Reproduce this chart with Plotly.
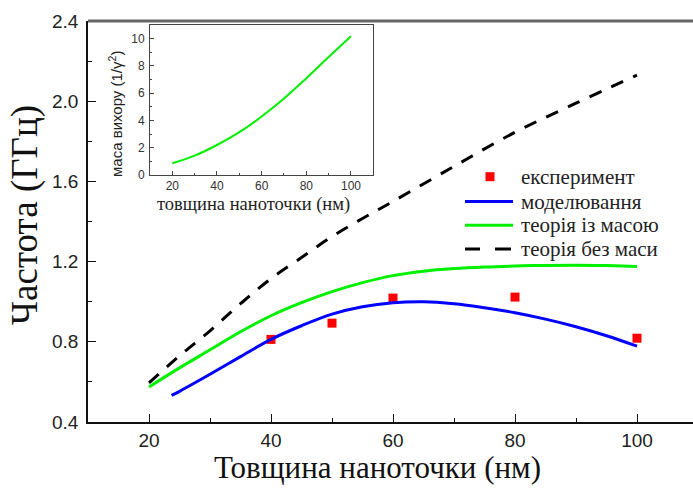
import plotly.graph_objects as go

# Experimental points
exp_x = [40, 50, 60, 80, 100]
exp_y = [0.812, 0.893, 1.018, 1.023, 0.818]

# Micromagnetic simulation
sim_x = [23.7, 25, 30, 35, 40, 45, 50, 55, 60, 65, 70, 75, 80, 85, 90, 95, 100]
sim_y = [0.533, 0.553, 0.638, 0.726, 0.812, 0.880, 0.938, 0.975, 0.995, 1.0,
         0.990, 0.970, 0.945, 0.913, 0.875, 0.830, 0.778]

# Theory including vortex mass
mass_x = [20, 25, 30, 35, 40, 45, 50, 55, 60, 65, 70, 75, 80, 85, 90, 95, 100]
mass_y = [0.575, 0.670, 0.760, 0.850, 0.930, 0.995, 1.050, 1.095, 1.130, 1.152,
          1.165, 1.173, 1.178, 1.181, 1.182, 1.180, 1.176]

# Theory without mass
nomass_x = [20, 25, 30, 35, 40, 45, 50, 55, 60, 70, 80, 90, 100]
nomass_y = [0.595, 0.730, 0.855, 0.990, 1.115, 1.220, 1.325, 1.415, 1.500,
            1.675, 1.845, 1.990, 2.130]

# Inset: vortex mass vs thickness
inset_x = [20, 30, 40, 50, 60, 70, 80, 90, 100]
inset_y = [0.86, 1.42, 2.20, 3.14, 4.29, 5.61, 7.10, 8.65, 10.17]

# Legend entries
legend_labels = ["експеримент", "моделювання", "теорія із масою", "теорія без маси"]

serif = "Liberation Serif, Times New Roman, serif"
sans = "Liberation Sans, Arial, sans-serif"
GREEN = "#00f000"

# main panel geometry in pixels (used to place the hand-drawn legend)
W, H = 693, 489
ML, MT, MB = 88, 21, 67
PW, PH = W - ML, H - MT - MB


def px_x(px):
    return (px - ML) / PW


def px_y(py):
    return (H - MB - py) / PH


fig = go.Figure()

fig.add_trace(go.Scatter(
    x=exp_x, y=exp_y, mode="markers", name=legend_labels[0],
    marker=dict(symbol="square", size=9, color="#ff0000"),
))
fig.add_trace(go.Scatter(
    x=sim_x, y=sim_y, mode="lines", name=legend_labels[1],
    line=dict(color="#0000ff", width=3, shape="spline"),
))
fig.add_trace(go.Scatter(
    x=mass_x, y=mass_y, mode="lines", name=legend_labels[2],
    line=dict(color=GREEN, width=3, shape="spline"),
))
fig.add_trace(go.Scatter(
    x=nomass_x, y=nomass_y, mode="lines", name=legend_labels[3],
    line=dict(color="#000000", width=3, dash="13px,11px", shape="spline"),
))
fig.add_trace(go.Scatter(
    x=inset_x, y=inset_y, mode="lines",
    xaxis="x2", yaxis="y2",
    line=dict(color=GREEN, width=2, shape="spline"),
))

# hand-placed legend with tight row spacing
rows_y = [176.7, 201.5, 225.3, 249.0]
shapes = [
    # heavy grey frame line along the top of the main panel
    dict(type="line", xref="paper", yref="paper", x0=0, x1=1, y0=1, y1=1,
         line=dict(color="#666", width=3)),
    dict(type="rect", xref="paper", yref="paper",
         x0=px_x(485.5), x1=px_x(494.5), y0=px_y(181.2), y1=px_y(172.2),
         fillcolor="#ff0000", line=dict(width=0)),
    dict(type="line", xref="paper", yref="paper",
         x0=px_x(465), x1=px_x(513), y0=px_y(rows_y[1]), y1=px_y(rows_y[1]),
         line=dict(color="#0000ff", width=3)),
    dict(type="line", xref="paper", yref="paper",
         x0=px_x(465), x1=px_x(513), y0=px_y(rows_y[2]), y1=px_y(rows_y[2]),
         line=dict(color=GREEN, width=3)),
    dict(type="line", xref="paper", yref="paper",
         x0=px_x(465), x1=px_x(480), y0=px_y(rows_y[3]), y1=px_y(rows_y[3]),
         line=dict(color="#000", width=3)),
    dict(type="line", xref="paper", yref="paper",
         x0=px_x(495), x1=px_x(511), y0=px_y(rows_y[3]), y1=px_y(rows_y[3]),
         line=dict(color="#000", width=3)),
]

annotations = [
    dict(text="Частота (ГГц)", xref="paper", yref="paper",
         x=px_x(25), y=px_y(215), textangle=-90, showarrow=False,
         xanchor="center", yanchor="middle",
         font=dict(family=serif, size=37, color="#111")),
    dict(text="Товщина наноточки (нм)", xref="paper", yref="paper",
         x=px_x(377), y=px_y(467), showarrow=False,
         xanchor="center", yanchor="middle",
         font=dict(family=serif, size=31, color="#111")),
    dict(text="маса вихору (1/γ<sup>2</sup>)", xref="paper", yref="paper",
         x=px_x(115), y=px_y(114), textangle=-90, showarrow=False,
         xanchor="center", yanchor="middle",
         font=dict(family=sans, size=15, color="#222")),
    dict(text="товщина наноточки (нм)", xref="paper", yref="paper",
         x=px_x(253), y=px_y(204), showarrow=False,
         xanchor="center", yanchor="middle",
         font=dict(family=serif, size=18.5, color="#222")),
]
for label, ry in zip(legend_labels, rows_y):
    annotations.append(dict(
        text=label, xref="paper", yref="paper", x=px_x(519), y=px_y(ry),
        xanchor="left", yanchor="middle", showarrow=False,
        font=dict(family=serif, size=21, color="#222"),
    ))

fig.update_layout(
    width=W, height=H,
    margin=dict(l=ML, r=0, t=MT, b=MB),
    paper_bgcolor="white", plot_bgcolor="white",
    showlegend=False,
    xaxis=dict(
        range=[10, 10 + PW / 6.1], showgrid=False, zeroline=False,
        showline=True, linecolor="#111", linewidth=1.5,
        ticks="inside", ticklen=8, tickwidth=1.3, tickcolor="#111",
        tickmode="array", tickvals=[20, 40, 60, 80, 100],
        minor=dict(ticks="inside", ticklen=4, tickwidth=1.3, tickcolor="#111",
                   tickvals=[30, 50, 70, 90]),
        tickfont=dict(family=sans, size=19, color="#222"),
        ticklabelstandoff=0,
    ),
    yaxis=dict(
        range=[0.4, 2.4], showgrid=False, zeroline=False,
        showline=True, linecolor="#111", linewidth=1.5,
        ticks="inside", ticklen=8, tickwidth=1.3, tickcolor="#111",
        tickmode="array", tickvals=[0.4, 0.8, 1.2, 1.6, 2.0, 2.4],
        ticktext=["0.4", "0.8", "1.2", "1.6", "2.0", "2.4"],
        minor=dict(ticks="inside", ticklen=4, tickwidth=1.3, tickcolor="#111",
                   tickvals=[0.6, 1.0, 1.4, 1.8, 2.2]),
        tickfont=dict(family=sans, size=19, color="#222"),
        ticklabelstandoff=4,
    ),
    xaxis2=dict(
        domain=[px_x(150), px_x(373.3)], anchor="y2", range=[10, 110],
        showgrid=False, zeroline=False,
        showline=True, mirror=True, linecolor="#444", linewidth=1,
        ticks="inside", ticklen=4, tickcolor="#444",
        tickvals=[20, 40, 60, 80, 100],
        minor=dict(ticks="inside", ticklen=2, tickcolor="#444",
                   tickvals=[30, 50, 70, 90]),
        tickfont=dict(family=sans, size=12, color="#333"),
        ticklabelstandoff=0,
    ),
    yaxis2=dict(
        domain=[px_y(175), px_y(25)], anchor="x2", range=[0, 11],
        showgrid=False, zeroline=False,
        showline=True, mirror=True, linecolor="#444", linewidth=1,
        ticks="inside", ticklen=4, tickcolor="#444",
        tickvals=[0, 2, 4, 6, 8, 10],
        minor=dict(ticks="inside", ticklen=2, tickcolor="#444",
                   tickvals=[1, 3, 5, 7, 9]),
        tickfont=dict(family=sans, size=12, color="#333"),
        ticklabelstandoff=2,
    ),
    shapes=shapes,
    annotations=annotations,
)

fig.write_html("out.html")
